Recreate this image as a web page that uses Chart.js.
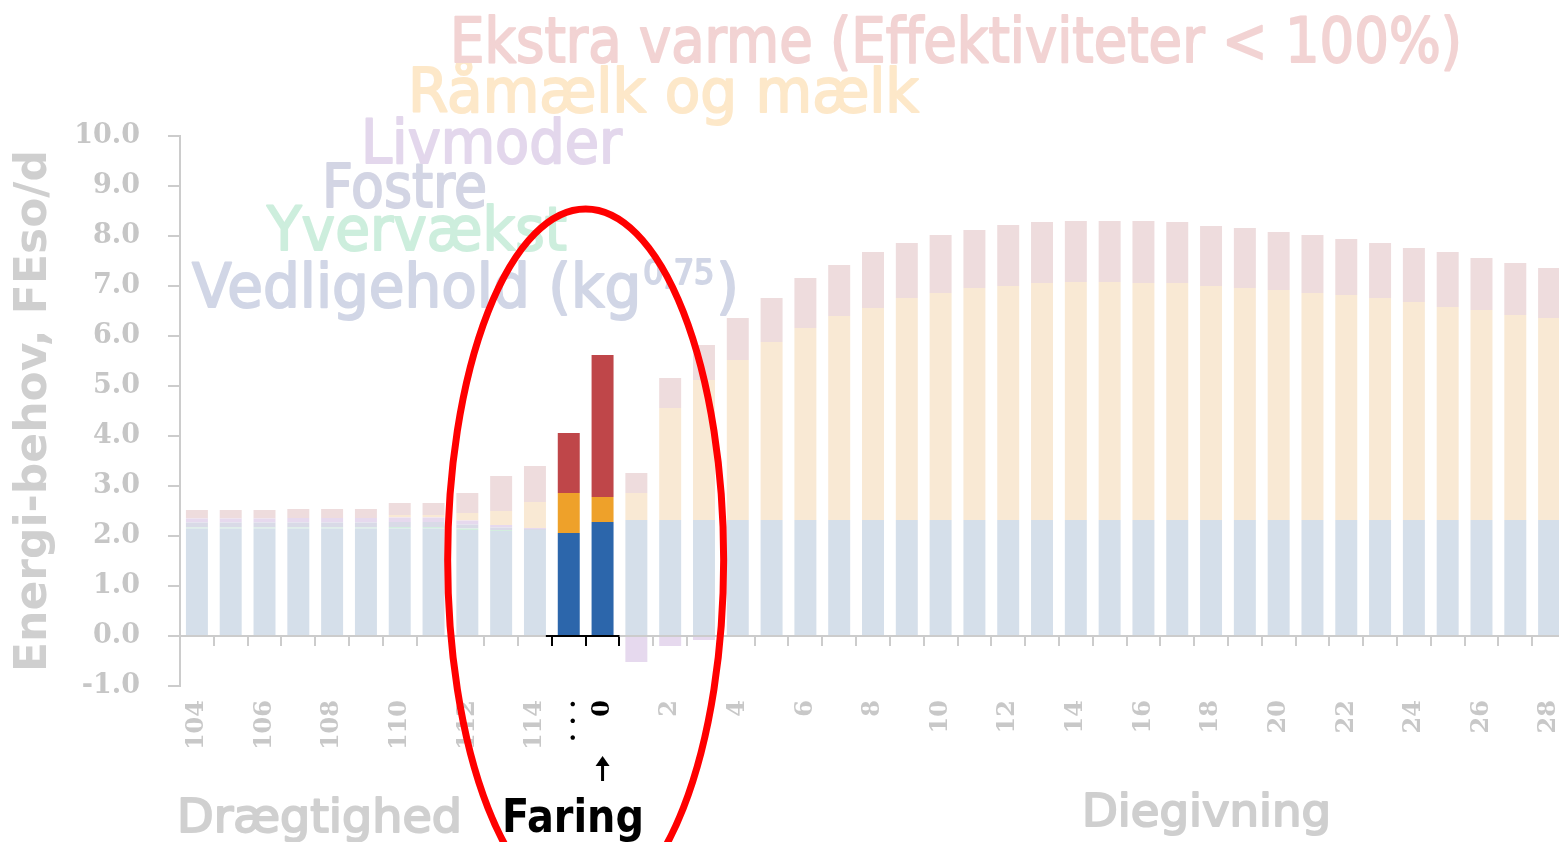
<!DOCTYPE html>
<html>
<head>
<meta charset="utf-8">
<title>Energibehov omkring faring</title>
<script src="https://cdn.jsdelivr.net/npm/chart.js@4.4.1/dist/chart.umd.min.js"></script>
<style>
  html, body { margin: 0; padding: 0; background: #fff; overflow: hidden; }
  #wrap { width: 1566px; height: 842px; }
</style>
</head>
<body>
<div id="wrap"><canvas id="energyChart" width="1566" height="842"></canvas></div>
<script>
// dage i drægtighed (104-114), faring (0) og diegivning (1-28)
const dayLabels = ['104','105','106','107','108','109','110','111','112','113','114','...',
  '0','1','2','3','4','5','6','7','8','9','10','11','12','13','14','15','16','17','18','19','20',
  '21','22','23','24','25','26','27','28'];

// FEso/d pr. komponent
const vedligehold = [2.15,2.15,2.15,2.15,2.15,2.15,2.15,2.15,2.12,2.10,2.12,2.06,2.28,
  2.32,2.32,2.32,2.32,2.32,2.32,2.32,2.32,2.32,2.32,2.32,2.32,2.32,2.32,
  2.32,2.32,2.32,2.32,2.32,2.32,2.32,2.32,2.32,2.32,2.32,2.32,2.32,2.32];
const yvervaekst = [0.02,0.02,0.02,0.02,0.02,0.02,0.03,0.03,0.03,0.02,0,0,0,
  0,0,0,0,0,0,0,0,0,0,0,0,0,0,0,0,0,0,0,0,0,0,0,0,0,0,0,0];
const fostre = [0.10,0.10,0.10,0.10,0.10,0.10,0.10,0.10,0.08,0.05,0.02,0,0,
  0,0,0,0,0,0,0,0,0,0,0,0,0,0,0,0,0,0,0,0,0,0,0,0,0,0,0,0];
const livmoder = [0.08,0.08,0.08,0.09,0.09,0.09,0.09,0.09,0.08,0.05,0.02,0,0,
  -0.52,-0.20,-0.08,0,0,0,0,0,0,0,0,0,0,0,0,0,0,0,0,0,0,0,0,0,0,0,0,0];
const raamaelk = [0,0,0,0,0,0,0.05,0.05,0.15,0.28,0.52,0.80,0.50,
  0.54,2.24,2.80,3.20,3.56,3.84,4.08,4.24,4.44,4.54,4.64,4.68,4.74,4.76,
  4.76,4.74,4.74,4.68,4.64,4.60,4.54,4.50,4.44,4.36,4.26,4.20,4.10,4.04];
const ekstraVarme = [0.17,0.17,0.17,0.18,0.18,0.18,0.24,0.24,0.40,0.70,0.72,1.20,2.84,
  0.40,0.60,0.70,0.84,0.88,1.00,1.02,1.12,1.10,1.16,1.16,1.22,1.22,1.22,
  1.22,1.24,1.22,1.20,1.20,1.16,1.16,1.12,1.10,1.08,1.10,1.04,1.04,1.00];

const seriesNames = ['Vedligehold (kg^0,75)', 'Yvervækst', 'Fostre', 'Livmoder',
  'Råmælk og mælk', 'Ekstra varme (Effektiviteter < 100%)'];

// faringsdøgnet der er fremhævet
const highlightIdx = [11, 12];

const fadedColors  = ['#d5dfea', '#d2eede', '#d9dae7', '#e6d9ee', '#f9e9d4', '#eedcdd'];
const strongColors = ['#2c66ab', '#5bb88a', '#8a90b8', '#9b7fb8', '#eea12a', '#bf4649'];
const textColors   = ['#d1d6e6', '#cdeedd', '#d3d5e4', '#e3d7ec', '#fde8c9', '#f2d3d3'];

// placering af tekster (legend ovenover, faser nedenunder)
const legendPos = [
  {x: 192, y: 307, size: 60, w: 547},
  {x: 267, y: 250, size: 60, w: 300},
  {x: 322, y: 207, size: 60, w: 165},
  {x: 361, y: 163, size: 61, w: 261},
  {x: 408, y: 112, size: 60, w: 511},
  {x: 450, y: 62,  size: 62, w: 1012}
];
const phaseTexts = [
  {text: 'Drægtighed', x: 177, y: 832, size: 46, w: 285, color: '#d0d0d0', weight: 'normal'},
  {text: 'Faring',     x: 502, y: 832, size: 46, w: 142, color: '#000000', weight: 'bold'},
  {text: 'Diegivning', x: 1082, y: 826, size: 44, w: 249, color: '#cfcfcf', weight: 'normal'}
];

const dataArrays = [vedligehold, yvervaekst, fostre, livmoder, raamaelk, ekstraVarme];

const datasets = dataArrays.map((arr, k) => ({
  label: seriesNames[k],
  data: arr,
  backgroundColor: (c) => highlightIdx.includes(c.dataIndex) ? strongColors[k] : fadedColors[k],
  borderWidth: 0,
  categoryPercentage: 1,
  barPercentage: 0.65
}));

// tekst strakt til en given bredde, lidt fortykket med en kontur
function fitText(ctx, text, x, y, size, width, color, weight) {
  ctx.save();
  ctx.font = (weight || 'normal') + ' ' + size + 'px "DejaVu Sans"';
  const m = ctx.measureText(text).width;
  ctx.translate(x, y);
  ctx.scale(width / m, 1);
  ctx.fillStyle = color;
  ctx.strokeStyle = color;
  ctx.lineWidth = weight === 'bold' ? 0 : 2;
  ctx.lineJoin = 'round';
  ctx.textBaseline = 'alphabetic';
  ctx.fillText(text, 0, 0);
  if (ctx.lineWidth > 0 && weight !== 'bold') ctx.strokeText(text, 0, 0);
  ctx.restore();
}

function supText(ctx, label, x, y, size, width, color) {
  const m = label.match(/^(.*)\^([0-9,.]+)(.*)$/);
  if (!m) { fitText(ctx, label, x, y, size, width, color); return; }
  const big = 'normal ' + size + 'px "DejaVu Sans"';
  const small = 'normal ' + Math.round(size * 0.55) + 'px "DejaVu Sans"';
  ctx.save();
  ctx.font = big;
  const w1 = ctx.measureText(m[1]).width, w3 = ctx.measureText(m[3]).width;
  ctx.font = small;
  const w2 = ctx.measureText(m[2]).width;
  ctx.translate(x, y);
  ctx.scale(width / (w1 + w2 + w3 + 4), 1);
  ctx.fillStyle = color;
  ctx.strokeStyle = color;
  ctx.lineWidth = 2;
  ctx.lineJoin = 'round';
  const parts = [[big, m[1], 0, 0], [small, m[2], w1 + 2, -size * 0.38], [big, m[3], w1 + w2 + 4, 0]];
  parts.forEach(p => {
    ctx.font = p[0];
    ctx.fillText(p[1], p[2], p[3]);
    ctx.strokeText(p[1], p[2], p[3]);
  });
  ctx.restore();
}

const annotations = {
  id: 'annotations',
  afterDatasetsDraw(chart) {
    const ctx = chart.ctx;
    const xs = chart.scales.x, ys = chart.scales.y;
    // sort akse under de fremhævede søjler
    ctx.save();
    ctx.strokeStyle = '#000';
    ctx.lineWidth = 2;
    const x0 = (xs.getPixelForTick(10) + xs.getPixelForTick(11)) / 2;
    const x1 = (xs.getPixelForTick(12) + xs.getPixelForTick(13)) / 2;
    ctx.beginPath();
    ctx.moveTo(x0 - 6, ys.getPixelForValue(0));
    ctx.lineTo(x1, ys.getPixelForValue(0));
    ctx.stroke();
    ctx.restore();
  },
  afterDraw(chart) {
    const ctx = chart.ctx;
    const xs = chart.scales.x;
    // legend-tekster
    chart.data.datasets.forEach((ds, k) => {
      const p = legendPos[k];
      supText(ctx, ds.label, p.x, p.y, p.size, p.w, textColors[k]);
    });
    // faser
    phaseTexts.forEach(t => fitText(ctx, t.text, t.x, t.y, t.size, t.w, t.color, t.weight));
    // pil under dag 0
    const ax = xs.getPixelForTick(12);
    ctx.save();
    ctx.strokeStyle = '#000';
    ctx.fillStyle = '#000';
    ctx.lineWidth = 3;
    ctx.beginPath();
    ctx.moveTo(ax, 781);
    ctx.lineTo(ax, 764);
    ctx.stroke();
    ctx.beginPath();
    ctx.moveTo(ax - 7, 766);
    ctx.lineTo(ax, 756);
    ctx.lineTo(ax + 7, 766);
    ctx.closePath();
    ctx.fill();
    ctx.restore();
    // rød ellipse om faringen
    const cx = (xs.getPixelForTick(11) + xs.getPixelForTick(12)) / 2;
    ctx.save();
    ctx.strokeStyle = '#ff0000';
    ctx.lineWidth = 7;
    ctx.beginPath();
    ctx.ellipse(cx, 560, 138, 351, 0, 0, Math.PI * 2);
    ctx.stroke();
    ctx.restore();
  }
};

new Chart(document.getElementById('energyChart'), {
  type: 'bar',
  data: { labels: dayLabels, datasets: datasets },
  options: {
    responsive: false,
    animation: false,
    layout: { padding: { top: 136, bottom: 156, left: 0, right: 0 } },
    plugins: { legend: { display: false }, tooltip: { enabled: false } },
    scales: {
      x: {
        stacked: true,
        position: { y: 0 },
        offset: true,
        afterFit: (s) => { s.paddingLeft = 0; s.paddingRight = 0; },
        grid: {
          offset: true,
          drawOnChartArea: false,
          tickLength: 9,
          lineWidth: 2,
          color: (c) => (c.index >= 11 && c.index <= 13) ? '#000000' : '#cccccc'
        },
        border: { display: true, color: '#cccccc', width: 2 },
        ticks: {
          autoSkip: false,
          minRotation: 90,
          maxRotation: 90,
          padding: 55,
          font: { family: 'DejaVu Serif', size: 24, weight: 'bold' },
          color: (c) => (dayLabels[c.index] === '0' || dayLabels[c.index] === '...') ? '#000000' : '#c8c8c8',
          callback: function (v, i) {
            const lab = dayLabels[i];
            if (lab === '...') return '. . .';
            return i % 2 === 0 ? lab : '';
          }
        }
      },
      y: {
        stacked: true,
        min: -1,
        max: 10,
        afterFit: (s) => { s.width = 180; },
        grid: { drawOnChartArea: false, tickLength: 12, color: '#cccccc', lineWidth: 2 },
        border: { display: true, color: '#cccccc', width: 2 },
        ticks: {
          stepSize: 1,
          padding: 28,
          color: '#c6c6c6',
          font: { family: 'DejaVu Serif', size: 27, weight: 'bold' },
          callback: (v) => v.toFixed(1)
        },
        title: {
          display: true,
          text: 'Energi-behov, FEso/d',
          color: '#cfcfcf',
          font: { family: 'DejaVu Sans', size: 44, weight: 'bold' },
          padding: { top: 8, bottom: 0 }
        }
      }
    }
  },
  plugins: [annotations]
});
</script>
</body>
</html>
